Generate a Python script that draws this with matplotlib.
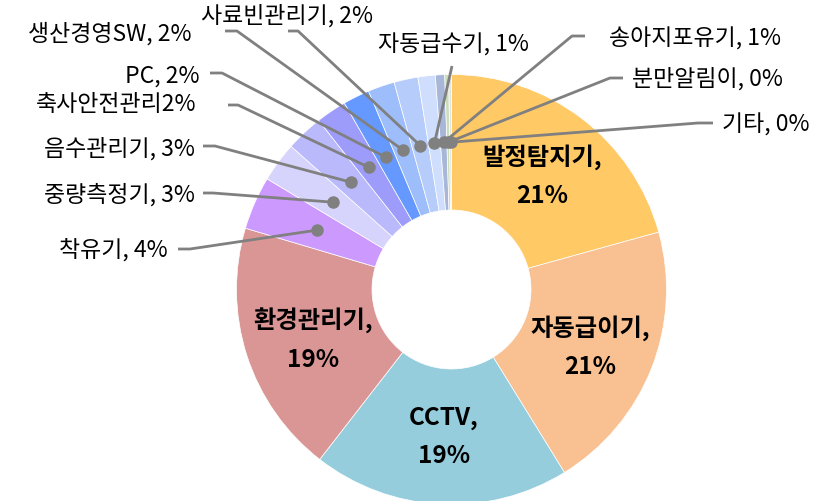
import numpy as np
import matplotlib
matplotlib.use("Agg")
import matplotlib.pyplot as plt

plt.rcParams["font.family"] = ["Noto Sans CJK KR", "DejaVu Sans"]

# data (share of devices, %)
labels = ["발정탐지기", "자동급이기", "CCTV", "환경관리기", "착유기", "중량측정기",
          "음수관리기", "축사안전관리", "PC", "생산경영SW", "사료빈관리기",
          "자동급수기", "송아지포유기", "분만알림이", "기타"]
values = [20.7, 20.5, 19.3, 19.1, 4.0, 3.0, 2.8, 2.3, 2.0, 2.0, 1.8, 1.3, 0.7, 0.3, 0.2]
pct_text = ["21%", "21%", "19%", "19%", "4%", "3%", "3%", "2%", "2%", "2%", "2%",
            "1%", "1%", "0%", "0%"]
colors = ["#FFC966", "#F9C192", "#95CDDD", "#DA9694", "#CC99FF", "#D6D4FD",
          "#B9B9FC", "#9D9CFB", "#6699FF", "#9DBDFB", "#B6CDFC", "#CFDEFD",
          "#A8B7D8", "#C9DDB8", "#E2E2E2"]

W, H = 817, 501
cx, cy = 451.5, H - 289.5
r_out, r_in = 215, 79.5

fig = plt.figure(figsize=(W / 100, H / 100), dpi=100)
ax = fig.add_axes([0, 0, 1, 1])

wedges, _ = ax.pie(values, colors=colors, startangle=90, counterclock=False,
                   radius=r_out, center=(cx, cy), frame=True,
                   wedgeprops=dict(width=r_out - r_in, edgecolor="white", linewidth=0.5))
ax.set_xlim(0, W)
ax.set_ylim(0, H)
ax.set_aspect("equal")
ax.axis("off")

# big inside labels
inner_pos = {0: (542, 176), 1: (590, 347), 2: (444, 437), 3: (313, 340)}
for i, (x, y) in inner_pos.items():
    ax.text(x, H - y, labels[i] + ",\n" + pct_text[i], ha="center", va="center",
            fontsize=17.5, fontweight="bold", linespacing=1.7)

# outside labels: (text anchor x, y, ha, line start x, elbow x)
out_pos = {
    4: (168, 250, "right", 178, 190),
    5: (195, 195, "right", 203, 213),
    6: (195, 149, "right", 203, 215),
    7: (196, 104, "right", 228, 238),
    8: (200, 76, "right", 210, 222),
    9: (192, 34, "right", 225, 237),
    10: (287, 16, "center", 288, 298),
    11: (453, 45, "center", 452, 452),
    12: (609, 39, "left", 585, 572),
    13: (632, 79, "left", 623, 610),
    14: (722, 125, "left", 713, 698),
}
line_y = {4: 249, 5: 193, 6: 146, 7: 105, 8: 73, 9: 31, 10: 31, 11: 66,
          12: 36, 13: 78, 14: 123}
r_mid = (r_out + r_in) / 2
cum = np.cumsum([0] + values[:-1])
gray = "#808080"
for i, (tx, ty, ha, lx, ex) in out_pos.items():
    ang = np.deg2rad(90 - 3.6 * (cum[i] + values[i] / 2))
    dx, dy = cx + r_mid * np.cos(ang), cy + r_mid * np.sin(ang)
    ly = H - line_y[i]
    ax.plot([lx, ex, dx], [ly, ly, dy], color=gray, lw=2, solid_capstyle="butt", zorder=3)
    ax.plot(dx, dy, "o", color=gray, ms=8, zorder=4)
    sep = "" if labels[i] == "축사안전관리" else ", "
    ax.text(tx, H - ty, labels[i] + sep + pct_text[i], ha=ha, va="center", fontsize=16.5)

fig.savefig("out.png", dpi=100)
